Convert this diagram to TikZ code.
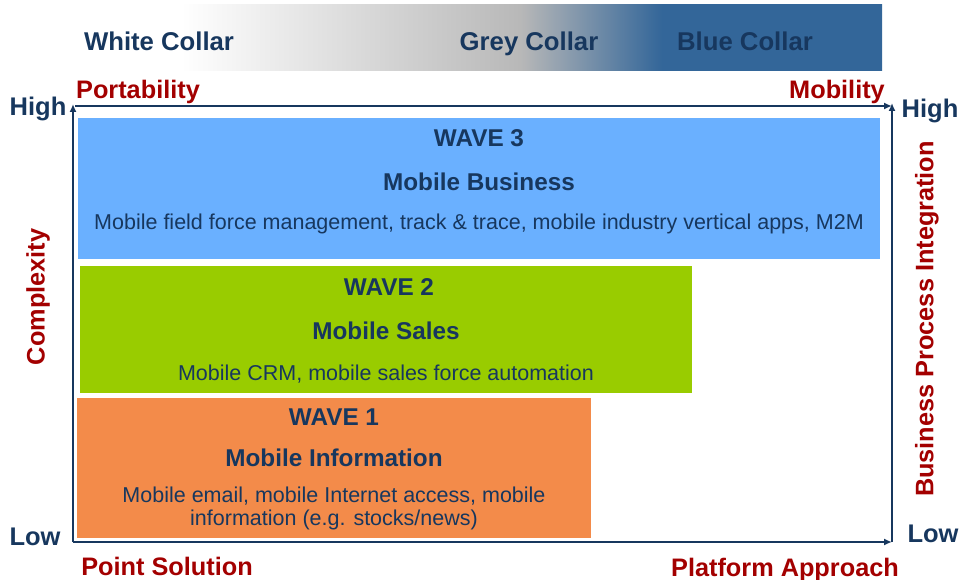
\documentclass[tikz,border=0pt]{standalone}
\usepackage{fontspec}
\setmainfont{Liberation Sans}
\usetikzlibrary{arrows.meta}

\definecolor{navy}{HTML}{17375E}
\definecolor{axisred}{HTML}{A30000}
\definecolor{wavethree}{HTML}{6AB0FF}
\definecolor{wavetwo}{HTML}{99CC00}
\definecolor{waveone}{HTML}{F38B4A}
\definecolor{collargrey}{HTML}{B8B8B8}
\definecolor{collarblue}{HTML}{336699}

% white -> grey -> blue along the collar bar
\pgfdeclarehorizontalshading{collarbar}{100bp}{color(0bp)=(white); color(25bp)=(white);
  color(49.2bp)=(collargrey); color(59.3bp)=(collarblue); color(100bp)=(collarblue)}

\tikzset{
  collar/.style={font=\fontsize{25.7}{30}\selectfont\bfseries, text=navy, inner sep=0pt, anchor=base},
  level/.style={font=\fontsize{25.5}{30}\selectfont\bfseries, text=navy, inner sep=0pt, anchor=base},
  axislabel/.style={font=\fontsize{25.3}{30}\selectfont\bfseries, text=axisred, inner sep=0pt, anchor=base},
  wavetitle/.style={font=\fontsize{24.3}{29}\selectfont\bfseries, text=navy, inner sep=0pt, anchor=base},
  wavetext/.style={font=\fontsize{21.5}{25}\selectfont, text=navy, inner sep=0pt, anchor=base, align=center},
  axisline/.style={draw=navy, line width=2pt, -{Latex[length=8pt,width=7pt]}},
}

\begin{document}
\begin{tikzpicture}[x=1pt,y=-1pt]
    \useasboundingbox (0,0) rectangle (962,580);

    % collar bar
    \shade[shading=collarbar] (181,5) rectangle (882,71);

    \node[collar] (white) at (159,51) {White Collar};
    \node[collar] (grey) at (529,51) {Grey Collar};
    \node[collar] (blue) at (745,51) {Blue Collar};

    % waves
    \fill[wavethree] (78,118) rectangle (880,259);
    \fill[wavetwo] (80,266) rectangle (692,393);
    \fill[waveone] (77,398) rectangle (591,538);

    \node[wavetitle] (w3) at (479,147) {WAVE 3};
    \node[wavetitle] (w3name) at (479,191) {Mobile Business};
    \node[wavetext] (w3text) at (479,230) {Mobile field force management, track \& trace, mobile industry vertical apps, M2M};

    \node[wavetitle] (w2) at (389,296) {WAVE 2};
    \node[wavetitle] (w2name) at (386,339) {Mobile Sales};
    \node[wavetext] (w2text) at (386,380) {Mobile CRM, mobile sales force automation};

    \node[wavetitle] (w1) at (334,425) {WAVE 1};
    \node[wavetitle] (w1name) at (334,466) {Mobile Information};
    \node[wavetext] (w1text) at (334,502) {Mobile email, mobile Internet access, mobile};
    \node[wavetext] (w1text2) at (334,525) {information (e.g. stocks/news)};

    % axes
    \coordinate (origin) at (73,542);
    \coordinate (ltop) at (73,104);
    \coordinate (rbot) at (892,542);
    \coordinate (rtop) at (892,103);
    \coordinate (tleft) at (75,106);
    \coordinate (tright) at (892,106);

    \draw[axisline] (origin) -- (ltop);
    \draw[axisline] (origin) -- (rbot);
    \draw[axisline] (rbot) -- (rtop);
    \draw[axisline] (tleft) -- (tright);

    % axis labels
    \node[level] (lhigh) at (38,116) {High};
    \node[level] (llow) at (35,545) {Low};
    \node[level] (rhigh) at (930,118) {High};
    \node[level] (rlow) at (933,542) {Low};

    \node[axislabel] (port) at (138,99) {Portability};
    \node[axislabel] (mob) at (837,99) {Mobility};
    \node[axislabel] (point) at (167,575) {Point Solution};
    \node[axislabel] (platform) at (785,576) {Platform Approach};

    \node[axislabel, anchor=center, rotate=90] (cplx) at (38,297) {Complexity};
    \node[axislabel, anchor=center, rotate=90] (bpi) at (927,319) {Business Process Integration};
\end{tikzpicture}
\end{document}
